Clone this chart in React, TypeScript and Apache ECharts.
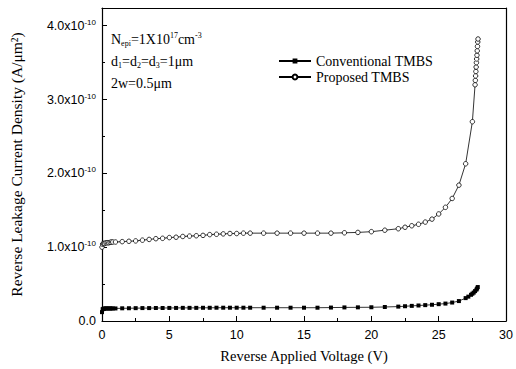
import React, { useEffect, useRef } from "react";
import * as echarts from "echarts";

// Reverse applied voltage (V) and leakage current density (x1e-10 A/um^2)
const proposedV = [0, 0.05, 0.1, 0.15, 0.2, 0.3, 0.4, 0.5, 0.6, 0.7, 0.8, 1.0, 1.5, 2, 2.5, 3, 3.5, 4, 4.5, 5, 5.5, 6, 6.5, 7, 7.5, 8, 8.5, 9, 9.5, 10, 10.5, 11, 12, 13, 14, 15, 16, 17, 18, 19, 20, 21, 22, 22.5, 23, 23.5, 24, 24.5, 25, 25.5, 26, 26.5, 27, 27.5, 27.7, 27.72, 27.74, 27.76, 27.78, 27.8, 27.82, 27.84, 27.86, 27.88, 27.9, 27.92];
const proposedJ = [1.0, 1.04, 1.05, 1.05, 1.05, 1.06, 1.06, 1.06, 1.065, 1.07, 1.07, 1.07, 1.075, 1.08, 1.085, 1.095, 1.105, 1.115, 1.12, 1.13, 1.135, 1.145, 1.15, 1.155, 1.16, 1.17, 1.175, 1.18, 1.185, 1.185, 1.19, 1.19, 1.19, 1.19, 1.19, 1.19, 1.19, 1.19, 1.195, 1.2, 1.21, 1.23, 1.25, 1.27, 1.29, 1.31, 1.34, 1.38, 1.45, 1.54, 1.66, 1.84, 2.13, 2.7, 3.2, 3.26, 3.32, 3.38, 3.44, 3.5, 3.55, 3.6, 3.66, 3.72, 3.78, 3.82];

const conventionalV = [0, 0.05, 0.1, 0.15, 0.2, 0.3, 0.4, 0.5, 0.6, 0.7, 0.8, 1.0, 1.5, 2, 2.5, 3, 3.5, 4, 4.5, 5, 5.5, 6, 6.5, 7, 7.5, 8, 8.5, 9, 9.5, 10, 10.5, 11, 12, 13, 14, 15, 16, 17, 18, 19, 20, 21, 22, 22.5, 23, 23.5, 24, 24.5, 25, 25.5, 26, 26.5, 27, 27.2, 27.4, 27.5, 27.6, 27.7, 27.8, 27.85, 27.9];
const conventionalJ = [0.12, 0.16, 0.165, 0.165, 0.17, 0.17, 0.17, 0.17, 0.17, 0.17, 0.17, 0.17, 0.172, 0.173, 0.174, 0.175, 0.175, 0.176, 0.176, 0.177, 0.177, 0.178, 0.178, 0.178, 0.179, 0.179, 0.18, 0.18, 0.18, 0.18, 0.18, 0.18, 0.18, 0.18, 0.18, 0.18, 0.18, 0.182, 0.184, 0.185, 0.186, 0.19, 0.195, 0.2, 0.205, 0.21, 0.215, 0.22, 0.228, 0.236, 0.25, 0.27, 0.31, 0.33, 0.355, 0.37, 0.385, 0.405, 0.425, 0.44, 0.46];

const seriesNames = ["Conventional TMBS", "Proposed TMBS"];

const serif = "Liberation Serif";
const sans = "Liberation Sans";

export default function App() {
  const ref = useRef<HTMLDivElement>(null);
  useEffect(() => {
    if (!ref.current) return;
    const chart = echarts.init(ref.current, undefined, { renderer: "svg" });
    const txt = { fontFamily: serif, fontSize: 14, color: "#000" };
    const sub = { fontFamily: serif, fontSize: 8, color: "#000", padding: [8, 0, 0, 0] };
    const sup = { fontFamily: serif, fontSize: 8, color: "#000", padding: [0, 0, 8, 0] };
    chart.setOption({
      animation: false,
      backgroundColor: "#fff",
      grid: { left: 102, right: 7, top: 8, bottom: 48, containLabel: false },
      legend: {
        left: 273,
        top: 49,
        orient: "vertical",
        itemWidth: 32,
        itemHeight: 6,
        itemGap: 2,
        textStyle: { fontFamily: serif, fontSize: 14, color: "#000" },
        data: seriesNames,
      },
      xAxis: [
        {
          type: "value",
          min: 0,
          max: 30,
          interval: 5,
          name: "Reverse Applied Voltage (V)",
          nameLocation: "middle",
          nameGap: 27,
          nameTextStyle: { fontFamily: serif, fontSize: 14.5, color: "#000" },
          axisLine: { show: true, onZero: false, lineStyle: { color: "#000", width: 1.2 } },
          axisTick: { show: true, inside: true, length: 5, lineStyle: { color: "#000" } },
          minorTick: { show: true, splitNumber: 2, length: 3, lineStyle: { color: "#000" } },
          splitLine: { show: false },
          axisLabel: { fontFamily: sans, fontSize: 12.5, color: "#000", margin: 7 },
        },
        {
          type: "value",
          position: "top",
          min: 0,
          max: 30,
          interval: 5,
          axisLine: { show: true, onZero: false, lineStyle: { color: "#000", width: 1.2 } },
          axisTick: { show: false },
          axisLabel: { show: false },
          splitLine: { show: false },
        },
      ],
      yAxis: [
        {
          type: "value",
          min: 0,
          max: 4.24,
          interval: 1,
          name: "Reverse Leakage Current Density (A/\u03BCm\u00B2)",
          nameLocation: "middle",
          nameGap: 78,
          nameTextStyle: { fontFamily: serif, fontSize: 15.5, color: "#000" },
          axisLine: { show: true, onZero: false, lineStyle: { color: "#000", width: 1.2 } },
          axisTick: { show: true, inside: true, length: 5, lineStyle: { color: "#000" } },
          minorTick: { show: true, splitNumber: 2, length: 3, lineStyle: { color: "#000" } },
          splitLine: { show: false },
          axisLabel: {
            fontFamily: sans,
            fontSize: 12.5,
            color: "#000",
            margin: 6,
            formatter: (v: number) => {
              if (Math.abs(v - Math.round(v)) > 1e-6) return "";
              if (v === 0) return "0.0";
              return `{b|${v.toFixed(1)}x10}{s|-10}`;
            },
            rich: {
              b: { fontFamily: sans, fontSize: 12.5, color: "#000" },
              s: { fontFamily: sans, fontSize: 8, color: "#000", padding: [0, 0, 7, 0] },
            },
          },
        },
        {
          type: "value",
          position: "right",
          min: 0,
          max: 4.24,
          interval: 1,
          axisLine: { show: true, onZero: false, lineStyle: { color: "#000", width: 1.2 } },
          axisTick: { show: false },
          axisLabel: { show: false },
          splitLine: { show: false },
        },
      ],
      graphic: [
        {
          type: "text",
          left: 111,
          top: 31,
          style: {
            text: "{t|N}{sub|epi}{t|=1X10}{sup|17}{t|cm}{sup|-3}",
            rich: { t: txt, sub, sup },
          },
        },
        {
          type: "text",
          left: 111,
          top: 54,
          style: {
            text: "{t|d}{sub|1}{t|=d}{sub|2}{t|=d}{sub|3}{t|=1\u03BCm}",
            rich: { t: txt, sub, sup },
          },
        },
        {
          type: "text",
          left: 111,
          top: 76,
          style: {
            text: "{t|2w=0.5\u03BCm}",
            rich: { t: txt },
          },
        },
      ],
      series: [
        {
          name: seriesNames[0],
          type: "line",
          data: conventionalV.map((v, i) => [v, conventionalJ[i]]),
          symbol: "rect",
          symbolSize: 4,
          showAllSymbol: true,
          itemStyle: { color: "#000" },
          lineStyle: { color: "#000", width: 0.8 },
        },
        {
          name: seriesNames[1],
          type: "line",
          data: proposedV.map((v, i) => [v, proposedJ[i]]),
          symbol: "circle",
          symbolSize: 4.5,
          showAllSymbol: true,
          itemStyle: { color: "#fff", borderColor: "#000", borderWidth: 0.8 },
          lineStyle: { color: "#000", width: 0.8 },
        },
      ],
    });
    return () => chart.dispose();
  }, []);
  return <div ref={ref} style={{ width: 516, height: 369, position: "absolute", left: 0, top: 0 }} />;
}
